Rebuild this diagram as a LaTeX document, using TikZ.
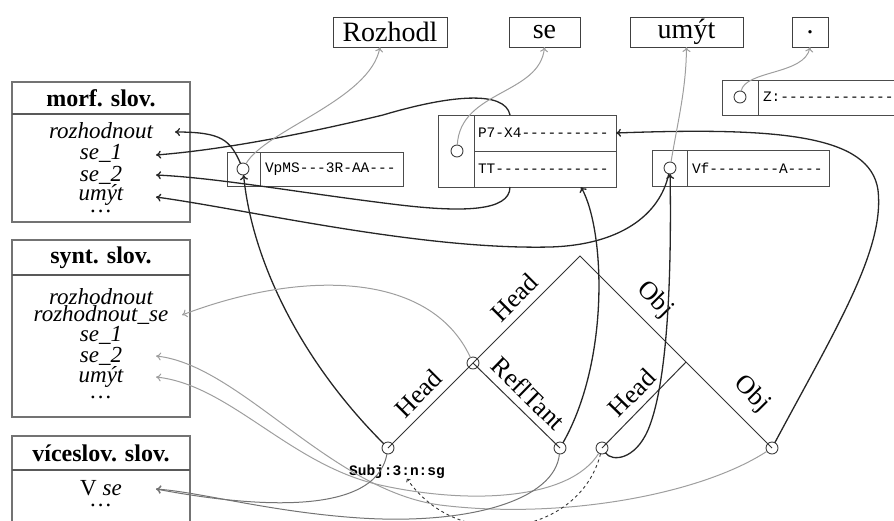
\documentclass[tikz,border=0pt]{standalone}
\usepackage{fontspec}
\setmainfont{Liberation Serif}
\newfontfamily\tagfont{Liberation Mono}
\usetikzlibrary{arrows.meta}
\begin{document}
\begin{tikzpicture}[x=1pt,y=-1pt,
  every node/.style={inner sep=0pt, outer sep=0pt},
  dictbox/.style={draw=black!55, line width=1.4pt, anchor=north west, minimum width=178pt},
  dictsep/.style={draw=black!65, line width=2.2pt},
  dicthead/.style={font=\fontsize{24}{24}\selectfont\bfseries},
  dictitem/.style={font=\fontsize{23}{23}\selectfont\itshape},
  wordbox/.style={draw=black!75, line width=1pt, minimum height=30pt, font=\fontsize{28}{28}\selectfont},
  cell/.style={draw=black!70, line width=0.9pt, anchor=north west},
  tagtxt/.style={font=\tagfont\fontsize{14.5}{14.5}\selectfont, anchor=west},
  ring/.style={circle, draw=black!75, line width=0.9pt, minimum size=12pt},
  edge/.style={draw=black!80, line width=1pt},
  lab/.style={font=\fontsize{26}{26}\selectfont, inner sep=1pt},
  blk/.style={draw=black!85, line width=1.3pt, -{To[length=5pt,width=8pt]}},
  gry/.style={draw=black!38, line width=1pt, -{To[length=5pt,width=8pt]}},
  gryd/.style={draw=black!55, line width=1pt, -{To[length=5pt,width=8pt]}},
  dsh/.style={draw=black!80, line width=0.9pt, dashed, -{To[length=3pt,width=5pt]}},
]
\useasboundingbox (0,0) rectangle (894,520);
\clip (0,0) rectangle (894,520);

% ---------- dictionaries ----------
\node[dictbox, minimum height=140pt] (morf) at (12,82) {};
\draw[dictsep] (12,114) -- (190,114);
\node[dicthead] (morfh) at (101,98) {morf. slov.};
\node[dictitem] (m1) at (101,131) {rozhodnout};
\node[dictitem] (m2) at (101,153) {se\_1};
\node[dictitem] (m3) at (101,175) {se\_2};
\node[dictitem] (m4) at (101,195) {umýt};
\node[dictitem] (m5) at (101,211) {\dots};
\coordinate (tm1) at (175,132);
\coordinate (tm2) at (156,155);
\coordinate (tm3) at (156,175);
\coordinate (tm4) at (156,197);

\node[dictbox, minimum height=177pt] (synt) at (12,240) {};
\draw[dictsep] (12,275) -- (190,275);
\node[dicthead] (synth) at (101,258) {synt. slov.};
\node[dictitem] (s1) at (101,297) {rozhodnout};
\node[dictitem] (s2) at (101,315) {rozhodnout\_se};
\node[dictitem] (s3) at (101,335) {se\_1};
\node[dictitem] (s4) at (101,356) {se\_2};
\node[dictitem] (s5) at (101,377) {umýt};
\node[dictitem] (s6) at (101,397) {\dots};
\coordinate (ts2) at (182,315);
\coordinate (ts4) at (156,356);
\coordinate (ts5) at (156,377);

\node[dictbox, minimum height=100pt] (vic) at (12,436) {};
\draw[dictsep] (12,470) -- (190,470);
\node[dicthead] (vich) at (101,453) {víceslov. slov.};
\node[font=\fontsize{23}{23}\selectfont] (v1) at (101,488) {V \textit{se}};
\node[dictitem] (v2) at (101,505) {\dots};
\coordinate (tv1) at (156,489);

% ---------- word forms ----------
\node[wordbox, minimum width=114pt] (wRoz) at (390,32) {Rozhodl};
\node[wordbox, minimum width=71pt] (wSe) at (544.5,32) {se};
\node[wordbox, minimum width=113pt] (wUmyt) at (686.5,32) {umýt};
\node[wordbox, minimum width=36pt] (wDot) at (810,32) {.};

% ---------- morphological boxes ----------
\node[cell, minimum width=33pt, minimum height=34pt] (Al) at (227,152) {};
\node[cell, minimum width=143pt, minimum height=34pt] (Ar) at (260,152) {};
\node[ring] (Ac) at (243,169) {};
\node[tagtxt] (At) at (265,169) {VpMS---3R-AA---};

\node[cell, minimum width=36pt, minimum height=72pt] (Bl) at (438,115) {};
\node[cell, minimum width=142pt, minimum height=36pt] (B1) at (474,115) {};
\node[cell, minimum width=142pt, minimum height=36pt] (B2) at (474,151) {};
\node[ring] (Bc) at (457,151) {};
\node[tagtxt] (B1t) at (478,133) {P7-X4----------};
\node[tagtxt] (B2t) at (478,169) {TT-------------};
\coordinate (B2in) at (581,187);

\node[cell, minimum width=35pt, minimum height=36pt] (Cl) at (652,150) {};
\node[cell, minimum width=142pt, minimum height=36pt] (Cr) at (687,150) {};
\node[ring] (Cc) at (670,168) {};
\node[tagtxt] (Ct) at (692,168) {Vf--------A----};

\node[cell, minimum width=36pt, minimum height=35pt] (Dl) at (722,80) {};
\node[cell, minimum width=160pt, minimum height=35pt] (Dr) at (758,80) {};
\node[ring] (Dc) at (740,97) {};
\node[tagtxt] (Dt) at (763,97) {Z:-------------};

% ---------- tree ----------
\node[ring] (n1) at (388,448) {};
\node[ring] (n2) at (473,363) {};
\node[ring] (n3) at (560,448) {};
\node[ring] (n4) at (602,448) {};
\node[ring] (n5) at (772,448) {};
\coordinate (ap) at (580,256);
\coordinate (tj) at (686,362);
\draw[edge] (n1.center) -- (n2.center) -- (ap) -- (tj) -- (n5.center);
\draw[edge] (n2.center) -- (n3.center);
\draw[edge] (n4.center) -- (tj);
\path (n1.center) -- (n2.center) node[lab, midway, sloped, above=7pt] (l1) {Head};
\path (n2.center) -- (ap) node[lab, midway, sloped, above=7pt] (l2) {Head};
\path (n2.center) -- (n3.center) node[lab, midway, sloped, above=7pt] (l3) {ReflTant};
\path (n4.center) -- (tj) node[lab, midway, sloped, above=7pt] (l4) {Head};
\path (ap) -- (tj) node[lab, pos=0.56, sloped, above=9pt] (l5) {Obj};
\path (tj) -- (n5.center) node[lab, pos=0.57, sloped, above=11pt] (l6) {Obj};
\node[font=\tagfont\bfseries\fontsize{14.5}{14.5}\selectfont] (subj) at (397,472) {Subj:3:n:sg};

% ---------- black connectors ----------
\draw[blk] (n1) .. controls (300,360) and (252,260) .. (Ac);
\draw[blk] (n5) .. controls (835,330) and (885,250) .. (878,190) .. controls (870,135) and (780,127) .. (B1.east);
\draw[blk] (n3) .. controls (610,360) and (605,230) .. (B2in);
\draw[blk] (n4) .. controls (612,462) and (635,460) .. (648,430) .. controls (665,390) and (672,300) .. (Cc);
\draw[blk] (Ac) .. controls (230,140) and (222,132) .. (tm1);
\draw[blk] ([xshift=-35pt]B1.north) .. controls (505,90) and (450,95) .. (383,115) .. controls (300,135) and (220,150) .. (tm2);
\draw[blk] ([xshift=-35pt]B2.south) .. controls (510,212) and (460,212) .. (400,205) .. controls (300,193) and (220,178) .. (tm3);
\draw[blk] (Cc) .. controls (660,215) and (620,245) .. (550,247) .. controls (420,250) and (250,210) .. (tm4);

% ---------- gray connectors ----------
\draw[gry] (Ac) .. controls (265,130) and (370,100) .. ([xshift=-10pt]wRoz.south);
\draw[gry] (Bc) .. controls (460,90) and (540,95) .. (wSe.south);
\draw[gry] (Cc) .. controls (678,120) and (686,90) .. (wUmyt.south);
\draw[gry] (Dc) .. controls (745,70) and (805,75) .. (wDot.south);
\draw[gry] (n2) .. controls (430,270) and (300,270) .. (ts2);
\draw[gry] (n5) .. controls (700,495) and (560,520) .. (440,505) .. controls (330,490) and (240,365) .. (ts4);
\draw[gry] (n4) .. controls (570,500) and (470,505) .. (380,485) .. controls (290,465) and (230,385) .. (ts5);
\draw[gryd] (n1) .. controls (375,520) and (240,505) .. (tv1);
\draw[gryd] (n3) .. controls (555,500) and (470,525) .. (360,518) .. controls (270,512) and (200,492) .. (tv1);
\draw[dsh] (n4) .. controls (580,535) and (460,555) .. ([xshift=10pt]subj.south);
\end{tikzpicture}
\end{document}
